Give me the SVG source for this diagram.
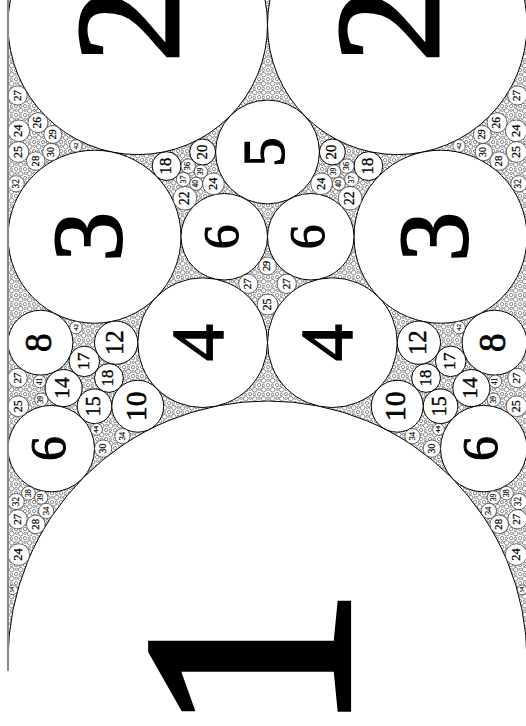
<svg xmlns="http://www.w3.org/2000/svg" width="526" height="726" viewBox="0 0 526 726">
<defs>
<pattern id="foam" patternUnits="userSpaceOnUse" width="9" height="9">
<rect width="9" height="9" fill="#fff"/>
<g fill="#fff" stroke="#333" stroke-width="0.55">
<circle cx="2.7" cy="2.7" r="2.3"/><circle cx="7.1" cy="7.1" r="1.7"/><circle cx="7.3" cy="2.3" r="1.2"/><circle cx="2.3" cy="7.4" r="1.2"/>
</g>
</pattern>
<clipPath id="clip"><rect x="0" y="0" width="526" height="671"/></clipPath>
</defs>
<style>
circle.c{fill:#fff;stroke:#000;stroke-width:1}
circle.s{fill:#fff;stroke:#111;stroke-width:0.6}
text{font-family:"Liberation Serif","DejaVu Serif",serif;text-anchor:middle;fill:#000;stroke:#000;stroke-width:0.02em}
</style>
<g id="packing" clip-path="url(#clip)">
<rect x="8" y="0" width="519" height="671" fill="url(#foam)"/>
<g id="n1"><circle class="c" cx="267.5" cy="660.5" r="259.5"/></g>
<g id="n5"><circle class="c" cx="267.5" cy="151.99" r="51.9"/><text transform="translate(267.5 151.99) rotate(-90)" y="16.1" font-size="59.7">5</text></g>
<g id="n29m"><circle class="s" cx="267.5" cy="265.96" r="8.95"/><text transform="translate(267.5 265.96) rotate(-90)" y="2.8" font-size="10.3">29</text></g>
<g id="n25m"><circle class="s" cx="267.5" cy="304.54" r="10.38"/><text transform="translate(267.5 304.54) rotate(-90)" y="3.2" font-size="11.9">25</text></g>

<g id="n2L"><circle class="c" cx="137.75" cy="24.86" r="129.75"/><text transform="translate(137.75 24.86) rotate(-90)" y="40.3" font-size="149.2">2</text></g>
<g id="n2R"><circle class="c" cx="397.25" cy="24.86" r="129.75"/><text transform="translate(397.25 24.86) rotate(-90)" y="40.3" font-size="149.2">2</text></g>
<g id="n3L"><circle class="c" cx="94.5" cy="236.74" r="86.5"/><text transform="translate(94.5 236.74) rotate(-90)" y="26.9" font-size="99.5">3</text></g>
<g id="n3R"><circle class="c" cx="440.5" cy="236.74" r="86.5"/><text transform="translate(440.5 236.74) rotate(-90)" y="26.9" font-size="99.5">3</text></g>
<g id="n4L"><circle class="c" cx="202.625" cy="342.68" r="64.875"/><text transform="translate(202.625 342.68) rotate(-90)" y="20.1" font-size="74.6">4</text></g>
<g id="n4R"><circle class="c" cx="332.375" cy="342.68" r="64.875"/><text transform="translate(332.375 342.68) rotate(-90)" y="20.1" font-size="74.6">4</text></g>
<g id="n6aL"><circle class="c" cx="224.25" cy="236.74" r="43.25"/><text transform="translate(224.25 236.74) rotate(-90)" y="13.4" font-size="49.7">6</text></g>
<g id="n6aR"><circle class="c" cx="310.75" cy="236.74" r="43.25"/><text transform="translate(310.75 236.74) rotate(-90)" y="13.4" font-size="49.7">6</text></g>
<g id="n6bL"><circle class="c" cx="51.25" cy="448.62" r="43.25"/><text transform="translate(51.25 448.62) rotate(-90)" y="13.4" font-size="49.7">6</text></g>
<g id="n6bR"><circle class="c" cx="483.75" cy="448.62" r="43.25"/><text transform="translate(483.75 448.62) rotate(-90)" y="13.4" font-size="49.7">6</text></g>
<g id="n8L"><circle class="c" cx="40.44" cy="342.68" r="32.44"/><text transform="translate(40.44 342.68) rotate(-90)" y="10.1" font-size="37.3">8</text></g>
<g id="n8R"><circle class="c" cx="494.56" cy="342.68" r="32.44"/><text transform="translate(494.56 342.68) rotate(-90)" y="10.1" font-size="37.3">8</text></g>
<g id="n12L"><circle class="c" cx="116.13" cy="342.68" r="21.63"/><text transform="translate(116.13 342.68) rotate(-90)" y="6.7" font-size="24.9">12</text></g>
<g id="n12R"><circle class="c" cx="418.87" cy="342.68" r="21.63"/><text transform="translate(418.87 342.68) rotate(-90)" y="6.7" font-size="24.9">12</text></g>
<g id="n17L"><circle class="c" cx="84.32" cy="361.37" r="15.26"/><text transform="translate(84.32 361.37) rotate(-90)" y="4.7" font-size="17.5">17</text></g>
<g id="n17R"><circle class="c" cx="450.68" cy="361.37" r="15.26"/><text transform="translate(450.68 361.37) rotate(-90)" y="4.7" font-size="17.5">17</text></g>
<g id="n14L"><circle class="c" cx="63.61" cy="388.08" r="18.54"/><text transform="translate(63.61 388.08) rotate(-90)" y="5.8" font-size="21.3">14</text></g>
<g id="n14R"><circle class="c" cx="471.39" cy="388.08" r="18.54"/><text transform="translate(471.39 388.08) rotate(-90)" y="5.8" font-size="21.3">14</text></g>
<g id="n18aL"><circle class="c" cx="108.92" cy="377.99" r="14.42"/><text transform="translate(108.92 377.99) rotate(-90)" y="4.5" font-size="16.6">18</text></g>
<g id="n18aR"><circle class="c" cx="426.08" cy="377.99" r="14.42"/><text transform="translate(426.08 377.99) rotate(-90)" y="4.5" font-size="16.6">18</text></g>
<g id="n15L"><circle class="c" cx="94.5" cy="406.24" r="17.3"/><text transform="translate(94.5 406.24) rotate(-90)" y="5.4" font-size="19.9">15</text></g>
<g id="n15R"><circle class="c" cx="440.5" cy="406.24" r="17.3"/><text transform="translate(440.5 406.24) rotate(-90)" y="5.4" font-size="19.9">15</text></g>
<g id="n10L"><circle class="c" cx="137.75" cy="406.24" r="25.95"/><text transform="translate(137.75 406.24) rotate(-90)" y="8.1" font-size="29.8">10</text></g>
<g id="n10R"><circle class="c" cx="397.25" cy="406.24" r="25.95"/><text transform="translate(397.25 406.24) rotate(-90)" y="8.1" font-size="29.8">10</text></g>
<g id="n27aL"><circle class="s" cx="17.61" cy="377.99" r="9.61"/><text transform="translate(17.61 377.99) rotate(-90)" y="3" font-size="11.1">27</text></g>
<g id="n27aR"><circle class="s" cx="517.39" cy="377.99" r="9.61"/><text transform="translate(517.39 377.99) rotate(-90)" y="3" font-size="11.1">27</text></g>
<g id="n41L"><circle class="s" cx="39.65" cy="381.44" r="6.33"/><text transform="translate(39.65 381.44) rotate(-90)" y="2" font-size="7.3">41</text></g>
<g id="n41R"><circle class="s" cx="495.35" cy="381.44" r="6.33"/><text transform="translate(495.35 381.44) rotate(-90)" y="2" font-size="7.3">41</text></g>
<g id="n39aL"><circle class="s" cx="41.27" cy="399.72" r="6.65"/><text transform="translate(41.27 399.72) rotate(-90)" y="2.1" font-size="7.6">39</text></g>
<g id="n39aR"><circle class="s" cx="493.73" cy="399.72" r="6.65"/><text transform="translate(493.73 399.72) rotate(-90)" y="2.1" font-size="7.6">39</text></g>
<g id="n25aL"><circle class="s" cx="18.38" cy="406.24" r="10.38"/><text transform="translate(18.38 406.24) rotate(-90)" y="3.2" font-size="11.9">25</text></g>
<g id="n25aR"><circle class="s" cx="516.62" cy="406.24" r="10.38"/><text transform="translate(516.62 406.24) rotate(-90)" y="3.2" font-size="11.9">25</text></g>
<g id="n34aL"><circle class="s" cx="122.49" cy="436.16" r="7.63"/><text transform="translate(122.49 436.16) rotate(-90)" y="2.4" font-size="8.8">34</text></g>
<g id="n34aR"><circle class="s" cx="412.51" cy="436.16" r="7.63"/><text transform="translate(412.51 436.16) rotate(-90)" y="2.4" font-size="8.8">34</text></g>
<g id="n30aL"><circle class="s" cx="103.15" cy="448.62" r="8.65"/><text transform="translate(103.15 448.62) rotate(-90)" y="2.7" font-size="9.9">30</text></g>
<g id="n30aR"><circle class="s" cx="431.85" cy="448.62" r="8.65"/><text transform="translate(431.85 448.62) rotate(-90)" y="2.7" font-size="9.9">30</text></g>
<g id="n44L"><circle class="s" cx="96.47" cy="429.36" r="5.9"/><text transform="translate(96.47 429.36) rotate(-90)" y="1.8" font-size="6.8">44</text></g>
<g id="n44R"><circle class="s" cx="438.53" cy="429.36" r="5.9"/><text transform="translate(438.53 429.36) rotate(-90)" y="1.8" font-size="6.8">44</text></g>
<g id="n42aL"><circle class="s" cx="75.96" cy="327.54" r="6.18"/><text transform="translate(75.96 327.54) rotate(-90)" y="1.9" font-size="7.1">42</text></g>
<g id="n42aR"><circle class="s" cx="459.04" cy="327.54" r="6.18"/><text transform="translate(459.04 327.54) rotate(-90)" y="1.9" font-size="7.1">42</text></g>
<g id="n27bL"><circle class="s" cx="17.61" cy="95.49" r="9.61"/><text transform="translate(17.61 95.49) rotate(-90)" y="3" font-size="11.1">27</text></g>
<g id="n27bR"><circle class="s" cx="517.39" cy="95.49" r="9.61"/><text transform="translate(517.39 95.49) rotate(-90)" y="3" font-size="11.1">27</text></g>
<g id="n24aL"><circle class="s" cx="18.81" cy="130.8" r="10.81"/><text transform="translate(18.81 130.8) rotate(-90)" y="3.4" font-size="12.4">24</text></g>
<g id="n24aR"><circle class="s" cx="516.19" cy="130.8" r="10.81"/><text transform="translate(516.19 130.8) rotate(-90)" y="3.4" font-size="12.4">24</text></g>
<g id="n26L"><circle class="s" cx="37.94" cy="122.65" r="9.98"/><text transform="translate(37.94 122.65) rotate(-90)" y="3.1" font-size="11.5">26</text></g>
<g id="n26R"><circle class="s" cx="497.06" cy="122.65" r="9.98"/><text transform="translate(497.06 122.65) rotate(-90)" y="3.1" font-size="11.5">26</text></g>
<g id="n29bL"><circle class="s" cx="52.74" cy="134.45" r="8.95"/><text transform="translate(52.74 134.45) rotate(-90)" y="2.8" font-size="10.3">29</text></g>
<g id="n29bR"><circle class="s" cx="482.26" cy="134.45" r="8.95"/><text transform="translate(482.26 134.45) rotate(-90)" y="2.8" font-size="10.3">29</text></g>
<g id="n25bL"><circle class="s" cx="18.38" cy="151.99" r="10.38"/><text transform="translate(18.38 151.99) rotate(-90)" y="3.2" font-size="11.9">25</text></g>
<g id="n25bR"><circle class="s" cx="516.62" cy="151.99" r="10.38"/><text transform="translate(516.62 151.99) rotate(-90)" y="3.2" font-size="11.9">25</text></g>
<g id="n28aL"><circle class="s" cx="35.8" cy="161.07" r="9.27"/><text transform="translate(35.8 161.07) rotate(-90)" y="2.9" font-size="10.7">28</text></g>
<g id="n28aR"><circle class="s" cx="499.2" cy="161.07" r="9.27"/><text transform="translate(499.2 161.07) rotate(-90)" y="2.9" font-size="10.7">28</text></g>
<g id="n30bL"><circle class="s" cx="51.25" cy="151.99" r="8.65"/><text transform="translate(51.25 151.99) rotate(-90)" y="2.7" font-size="9.9">30</text></g>
<g id="n30bR"><circle class="s" cx="483.75" cy="151.99" r="8.65"/><text transform="translate(483.75 151.99) rotate(-90)" y="2.7" font-size="9.9">30</text></g>
<g id="n32aL"><circle class="s" cx="16.11" cy="183.77" r="8.11"/><text transform="translate(16.11 183.77) rotate(-90)" y="2.5" font-size="9.3">32</text></g>
<g id="n32aR"><circle class="s" cx="518.89" cy="183.77" r="8.11"/><text transform="translate(518.89 183.77) rotate(-90)" y="2.5" font-size="9.3">32</text></g>
<g id="n42bL"><circle class="s" cx="75.96" cy="145.93" r="6.18"/><text transform="translate(75.96 145.93) rotate(-90)" y="1.9" font-size="7.1">42</text></g>
<g id="n42bR"><circle class="s" cx="459.04" cy="145.93" r="6.18"/><text transform="translate(459.04 145.93) rotate(-90)" y="1.9" font-size="7.1">42</text></g>
<g id="n18bL"><circle class="c" cx="166.58" cy="166.11" r="14.42"/><text transform="translate(166.58 166.11) rotate(-90)" y="4.5" font-size="16.6">18</text></g>
<g id="n18bR"><circle class="c" cx="368.42" cy="166.11" r="14.42"/><text transform="translate(368.42 166.11) rotate(-90)" y="4.5" font-size="16.6">18</text></g>
<g id="n20L"><circle class="c" cx="202.63" cy="151.99" r="12.98"/><text transform="translate(202.63 151.99) rotate(-90)" y="4" font-size="14.9">20</text></g>
<g id="n20R"><circle class="c" cx="332.37" cy="151.99" r="12.98"/><text transform="translate(332.37 151.99) rotate(-90)" y="4" font-size="14.9">20</text></g>
<g id="n24bL"><circle class="s" cx="213.44" cy="183.77" r="10.81"/><text transform="translate(213.44 183.77) rotate(-90)" y="3.4" font-size="12.4">24</text></g>
<g id="n24bR"><circle class="s" cx="321.56" cy="183.77" r="10.81"/><text transform="translate(321.56 183.77) rotate(-90)" y="3.4" font-size="12.4">24</text></g>
<g id="n22L"><circle class="s" cx="184.93" cy="198.22" r="11.8"/><text transform="translate(184.93 198.22) rotate(-90)" y="3.7" font-size="13.6">22</text></g>
<g id="n22R"><circle class="s" cx="350.07" cy="198.22" r="11.8"/><text transform="translate(350.07 198.22) rotate(-90)" y="3.7" font-size="13.6">22</text></g>
<g id="n36L"><circle class="s" cx="188.21" cy="166.11" r="7.21"/><text transform="translate(188.21 166.11) rotate(-90)" y="2.2" font-size="8.3">36</text></g>
<g id="n36R"><circle class="s" cx="346.79" cy="166.11" r="7.21"/><text transform="translate(346.79 166.11) rotate(-90)" y="2.2" font-size="8.3">36</text></g>
<g id="n37L"><circle class="s" cx="183.34" cy="179.48" r="7.01"/><text transform="translate(183.34 179.48) rotate(-90)" y="2.2" font-size="8.1">37</text></g>
<g id="n37R"><circle class="s" cx="351.66" cy="179.48" r="7.01"/><text transform="translate(351.66 179.48) rotate(-90)" y="2.2" font-size="8.1">37</text></g>
<g id="n39bL"><circle class="s" cx="200.96" cy="171.55" r="6.65"/><text transform="translate(200.96 171.55) rotate(-90)" y="2.1" font-size="7.6">39</text></g>
<g id="n39bR"><circle class="s" cx="334.04" cy="171.55" r="6.65"/><text transform="translate(334.04 171.55) rotate(-90)" y="2.1" font-size="7.6">39</text></g>
<g id="n40L"><circle class="s" cx="196.14" cy="183.77" r="6.49"/><text transform="translate(196.14 183.77) rotate(-90)" y="2" font-size="7.5">40</text></g>
<g id="n40R"><circle class="s" cx="338.86" cy="183.77" r="6.49"/><text transform="translate(338.86 183.77) rotate(-90)" y="2" font-size="7.5">40</text></g>
<g id="n27cL"><circle class="s" cx="248.28" cy="283.82" r="9.61"/><text transform="translate(248.28 283.82) rotate(-90)" y="3" font-size="11.1">27</text></g>
<g id="n27cR"><circle class="s" cx="286.72" cy="283.82" r="9.61"/><text transform="translate(286.72 283.82) rotate(-90)" y="3" font-size="11.1">27</text></g>
<g id="n32bL"><circle class="s" cx="16.11" cy="501.59" r="8.11"/><text transform="translate(16.11 501.59) rotate(-90)" y="2.5" font-size="9.3">32</text></g>
<g id="n32bR"><circle class="s" cx="518.89" cy="501.59" r="8.11"/><text transform="translate(518.89 501.59) rotate(-90)" y="2.5" font-size="9.3">32</text></g>
<g id="n38L"><circle class="s" cx="28.49" cy="493.23" r="6.83"/><text transform="translate(28.49 493.23) rotate(-90)" y="2.1" font-size="7.9">38</text></g>
<g id="n38R"><circle class="s" cx="506.51" cy="493.23" r="6.83"/><text transform="translate(506.51 493.23) rotate(-90)" y="2.1" font-size="7.9">38</text></g>
<g id="n39cL"><circle class="s" cx="41.27" cy="497.52" r="6.65"/><text transform="translate(41.27 497.52) rotate(-90)" y="2.1" font-size="7.6">39</text></g>
<g id="n39cR"><circle class="s" cx="493.73" cy="497.52" r="6.65"/><text transform="translate(493.73 497.52) rotate(-90)" y="2.1" font-size="7.6">39</text></g>
<g id="n34bL"><circle class="s" cx="46.16" cy="510.94" r="7.63"/><text transform="translate(46.16 510.94) rotate(-90)" y="2.4" font-size="8.8">34</text></g>
<g id="n34bR"><circle class="s" cx="488.84" cy="510.94" r="7.63"/><text transform="translate(488.84 510.94) rotate(-90)" y="2.4" font-size="8.8">34</text></g>
<g id="n27dL"><circle class="s" cx="17.61" cy="519.25" r="9.61"/><text transform="translate(17.61 519.25) rotate(-90)" y="3" font-size="11.1">27</text></g>
<g id="n27dR"><circle class="s" cx="517.39" cy="519.25" r="9.61"/><text transform="translate(517.39 519.25) rotate(-90)" y="3" font-size="11.1">27</text></g>
<g id="n28bL"><circle class="s" cx="35.8" cy="524.29" r="9.27"/><text transform="translate(35.8 524.29) rotate(-90)" y="2.9" font-size="10.7">28</text></g>
<g id="n28bR"><circle class="s" cx="499.2" cy="524.29" r="9.27"/><text transform="translate(499.2 524.29) rotate(-90)" y="2.9" font-size="10.7">28</text></g>
<g id="n24cL"><circle class="s" cx="18.81" cy="554.56" r="10.81"/><text transform="translate(18.81 554.56) rotate(-90)" y="3.4" font-size="12.4">24</text></g>
<g id="n24cR"><circle class="s" cx="516.19" cy="554.56" r="10.81"/><text transform="translate(516.19 554.56) rotate(-90)" y="3.4" font-size="12.4">24</text></g>
<g id="n54L"><circle class="s" cx="12.81" cy="589.87" r="4.81"/><text transform="translate(12.81 589.87) rotate(-90)" y="1.5" font-size="5.5">54</text></g>
<g id="n54R"><circle class="s" cx="522.19" cy="589.87" r="4.81"/><text transform="translate(522.19 589.87) rotate(-90)" y="1.5" font-size="5.5">54</text></g>
<line id="lineL" x1="8" y1="0" x2="8" y2="671" stroke="#888" stroke-width="2"/>
<line id="lineR" x1="527" y1="0" x2="527" y2="671" stroke="#888" stroke-width="2"/>
</g>
<g id="n1label"><text transform="translate(267.5 660.5) rotate(-90)" y="80.6" font-size="298.4">1</text></g>
</svg>
